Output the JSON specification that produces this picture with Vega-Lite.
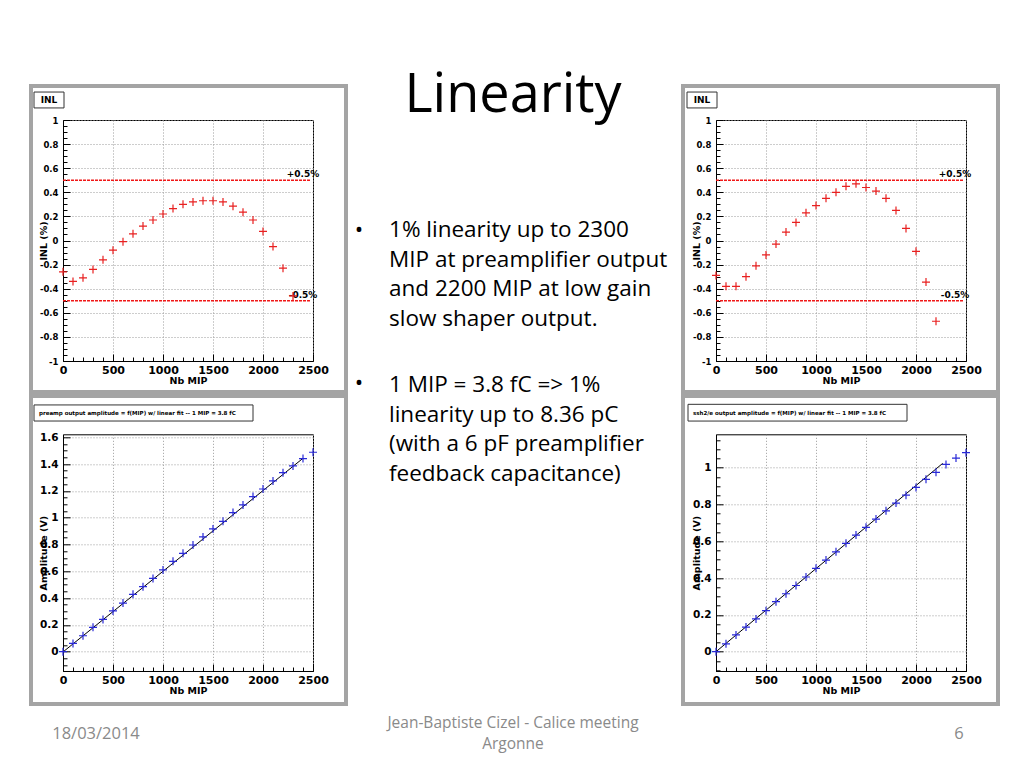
{
  "$schema": "https://vega.github.io/schema/vega-lite/v6.json",
  "background": "white",
  "padding": {"left": 28, "top": 68, "right": 10, "bottom": 5},
  "bounds": "flush",
  "columns": 3,
  "spacing": {"row": 73.3, "column": 20},
  "config": {
    "view": {"stroke": "black", "strokeWidth": 1},
    "axis": {
      "domainColor": "black", "domainWidth": 1, "tickColor": "black", "tickWidth": 1,
      "labelFont": "DejaVu Sans", "labelFontWeight": "bold", "labelColor": "black",
      "titleFont": "DejaVu Sans", "titleFontWeight": "bold", "titleFontSize": 9.5, "titleColor": "black",
      "grid": true, "gridColor": "#9a9a9a", "gridDash": [1, 2], "gridWidth": 1,
      "labelOverlap": false, "labelFlush": false, "labelBound": false, "tickCount": 100
    },
    "axisX": {"labelFontSize": 11, "labelPadding": 10},
    "axisY": {"labelFontSize": 9.5, "labelPadding": 12}
  },
  "datasets": {
    "inl_pa": [
      {"mip": 0, "inl": -0.26}, {"mip": 100, "inl": -0.34}, {"mip": 200, "inl": -0.31}, {"mip": 300, "inl": -0.24},
      {"mip": 400, "inl": -0.16}, {"mip": 500, "inl": -0.08}, {"mip": 600, "inl": -0.01}, {"mip": 700, "inl": 0.055},
      {"mip": 800, "inl": 0.12}, {"mip": 900, "inl": 0.17}, {"mip": 1000, "inl": 0.22}, {"mip": 1100, "inl": 0.265},
      {"mip": 1200, "inl": 0.30}, {"mip": 1300, "inl": 0.32}, {"mip": 1400, "inl": 0.33}, {"mip": 1500, "inl": 0.33},
      {"mip": 1600, "inl": 0.32}, {"mip": 1700, "inl": 0.285}, {"mip": 1800, "inl": 0.235}, {"mip": 1900, "inl": 0.17},
      {"mip": 2000, "inl": 0.075}, {"mip": 2100, "inl": -0.05}, {"mip": 2200, "inl": -0.23}, {"mip": 2300, "inl": -0.46}
    ],
    "inl_ss": [
      {"mip": 0, "inl": -0.29}, {"mip": 100, "inl": -0.38}, {"mip": 200, "inl": -0.38}, {"mip": 300, "inl": -0.30},
      {"mip": 400, "inl": -0.21}, {"mip": 500, "inl": -0.12}, {"mip": 600, "inl": -0.03}, {"mip": 700, "inl": 0.07},
      {"mip": 800, "inl": 0.15}, {"mip": 900, "inl": 0.23}, {"mip": 1000, "inl": 0.29}, {"mip": 1100, "inl": 0.35},
      {"mip": 1200, "inl": 0.40}, {"mip": 1300, "inl": 0.45}, {"mip": 1400, "inl": 0.47}, {"mip": 1500, "inl": 0.44},
      {"mip": 1600, "inl": 0.41}, {"mip": 1700, "inl": 0.35}, {"mip": 1800, "inl": 0.25}, {"mip": 1900, "inl": 0.10},
      {"mip": 2000, "inl": -0.09}, {"mip": 2100, "inl": -0.345}, {"mip": 2200, "inl": -0.67}
    ],
    "amp_pa": [
      {"mip": 0, "amp": 0}, {"mip": 100, "amp": 0.062}, {"mip": 200, "amp": 0.119}, {"mip": 300, "amp": 0.182},
      {"mip": 400, "amp": 0.241}, {"mip": 500, "amp": 0.304}, {"mip": 600, "amp": 0.363}, {"mip": 700, "amp": 0.428},
      {"mip": 800, "amp": 0.485}, {"mip": 900, "amp": 0.547}, {"mip": 1000, "amp": 0.610}, {"mip": 1100, "amp": 0.674},
      {"mip": 1200, "amp": 0.734}, {"mip": 1300, "amp": 0.796}, {"mip": 1400, "amp": 0.856}, {"mip": 1500, "amp": 0.916},
      {"mip": 1600, "amp": 0.973}, {"mip": 1700, "amp": 1.038}, {"mip": 1800, "amp": 1.095}, {"mip": 1900, "amp": 1.157},
      {"mip": 2000, "amp": 1.214}, {"mip": 2100, "amp": 1.274}, {"mip": 2200, "amp": 1.336}, {"mip": 2300, "amp": 1.386},
      {"mip": 2400, "amp": 1.441}, {"mip": 2500, "amp": 1.488}
    ],
    "amp_ss": [
      {"mip": 0, "amp": 0}, {"mip": 100, "amp": 0.043}, {"mip": 200, "amp": 0.091}, {"mip": 300, "amp": 0.134},
      {"mip": 400, "amp": 0.178}, {"mip": 500, "amp": 0.223}, {"mip": 600, "amp": 0.272}, {"mip": 700, "amp": 0.315},
      {"mip": 800, "amp": 0.360}, {"mip": 900, "amp": 0.406}, {"mip": 1000, "amp": 0.453}, {"mip": 1100, "amp": 0.498},
      {"mip": 1200, "amp": 0.543}, {"mip": 1300, "amp": 0.589}, {"mip": 1400, "amp": 0.634}, {"mip": 1500, "amp": 0.676},
      {"mip": 1600, "amp": 0.721}, {"mip": 1700, "amp": 0.766}, {"mip": 1800, "amp": 0.808}, {"mip": 1900, "amp": 0.851},
      {"mip": 2000, "amp": 0.893}, {"mip": 2100, "amp": 0.937}, {"mip": 2200, "amp": 0.975}, {"mip": 2300, "amp": 1.018},
      {"mip": 2400, "amp": 1.053}, {"mip": 2500, "amp": 1.082}
    ],
    "fit_pa": [{"mip": 0, "amp": -0.002}, {"mip": 2400, "amp": 1.443}],
    "fit_ss": [{"mip": 0, "amp": 0}, {"mip": 2267, "amp": 1.024}],
    "limits": [{"lim": 0.5, "lab": "+0.5%"}, {"lim": -0.5, "lab": "-0.5%"}]
  },
  "concat": [
    {
      "width": 250, "height": 241,
      "layer": [
        {"data": {"values": [{}]}, "mark": {"type": "rect", "filled": false, "stroke": "#a4a4a4", "strokeWidth": 4},
         "encoding": {"x": {"datum": -320, "type": "quantitative"}, "x2": {"datum": 2830}, "y": {"datum": -1.257, "type": "quantitative"}, "y2": {"datum": 1.282}}},
        {"data": {"values": [{}]}, "mark": {"type": "rect", "fill": "white", "stroke": "#333333", "strokeWidth": 1},
         "encoding": {"x": {"datum": -290, "type": "quantitative"}, "x2": {"datum": 10}, "y": {"datum": 1.10, "type": "quantitative"}, "y2": {"datum": 1.232}}},
        {"data": {"values": [{"t": "INL"}]}, "mark": {"type": "text", "font": "DejaVu Sans", "fontWeight": "bold", "fontSize": 9, "baseline": "middle", "align": "center"},
         "encoding": {"x": {"datum": -140, "type": "quantitative"}, "y": {"datum": 1.166, "type": "quantitative"}, "text": {"field": "t"}}},
        {"data": {"name": "limits"}, "mark": {"type": "rule", "color": "#f01818", "strokeWidth": 1.5, "strokeDash": [3, 1]},
         "encoding": {"x": {"datum": 0, "type": "quantitative"}, "x2": {"datum": 2480}, "y": {"field": "lim", "type": "quantitative"}}},
        {"data": {"name": "limits"}, "mark": {"type": "text", "font": "DejaVu Sans", "fontWeight": "bold", "fontSize": 9, "baseline": "bottom", "align": "center", "dy": -1},
         "encoding": {"x": {"datum": 2400, "type": "quantitative"}, "y": {"field": "lim", "type": "quantitative"}, "text": {"field": "lab"}}},
        {"data": {"name": "inl_pa"}, "mark": {"type": "point", "shape": "M-1,0L1,0M0,-1L0,1", "filled": false, "color": "#e82020", "size": 64, "strokeWidth": 1.2, "opacity": 1},
         "encoding": {
           "x": {"field": "mip", "type": "quantitative", "scale": {"domain": [0, 2500], "nice": false, "zero": false},
             "axis": {"title": "Nb MIP", "tickCount": 100, "values": [0,100,200,300,400,500,600,700,800,900,1000,1100,1200,1300,1400,1500,1600,1700,1800,1900,2000,2100,2200,2300,2400,2500],
               "labelOverlap": false,
               "labelExpr": "datum.value % 500 == 0 ? format(datum.value, 'd') : ''",
               "tickSize": {"condition": {"test": "datum.value % 500 == 0", "value": -7}, "value": -4},
               "gridOpacity": {"condition": {"test": "datum.value % 500 == 0", "value": 1}, "value": 0},
               "titleX": 125, "titleY": 19, "titleBaseline": "middle", "titleAlign": "center"}},
           "y": {"field": "inl", "type": "quantitative", "scale": {"domain": [-1, 1], "nice": false, "zero": false},
             "axis": {"title": "INL (%)", "tickCount": 100, "labelFontSize": 8.5, "values": [-1,-0.95,-0.9,-0.85,-0.8,-0.75,-0.7,-0.65,-0.6,-0.55,-0.5,-0.45,-0.4,-0.35,-0.3,-0.25,-0.2,-0.15,-0.1,-0.05,0,0.05,0.1,0.15,0.2,0.25,0.3,0.35,0.4,0.45,0.5,0.55,0.6,0.65,0.7,0.75,0.8,0.85,0.9,0.95,1],
               "labelOverlap": false,
               "labelExpr": "abs(round(datum.value*100)) % 20 == 0 ? (datum.value < -0.001 ? '-' : '') + format(abs(datum.value), '~g') : ''",
               "tickSize": {"condition": {"test": "abs(round(datum.value*100)) % 20 == 0", "value": -7}, "value": -4},
               "gridOpacity": {"condition": {"test": "abs(round(datum.value*100)) % 20 == 0", "value": 1}, "value": 0},
               "titleX": -20, "titleY": 120.5, "titleBaseline": "middle", "titleAlign": "center"}}
         }}
      ]
    },
    {
      "width": 363, "height": 241,
      "view": {"stroke": null},
      "layer": [
        {"data": {"values": [{"t": "Linearity"}]}, "mark": {"type": "text", "font": "Open Sans", "fontSize": 54, "align": "center", "baseline": "alphabetic", "color": "black"},
         "encoding": {"x": {"datum": 0.4959, "type": "quantitative", "scale": {"domain": [0, 1]}, "axis": null}, "y": {"datum": -0.0332, "type": "quantitative", "scale": {"domain": [0, 1], "reverse": true}, "axis": null}, "text": {"field": "t"}}},
        {"data": {"values": [{"t": "•"}]}, "mark": {"type": "text", "font": "Open Sans", "fontSize": 22.5, "align": "center", "baseline": "middle", "color": "black"},
         "encoding": {"x": {"datum": 0.0716, "type": "quantitative"}, "y": {"datum": 0.4564, "type": "quantitative"}, "text": {"field": "t"}}},
        {"data": {"values": [{"t": ["1% linearity up to 2300", "MIP at preamplifier output", "and 2200 MIP at low gain", "slow shaper output."]}]},
         "mark": {"type": "text", "font": "Open Sans", "fontSize": 22.5, "align": "left", "baseline": "alphabetic", "lineHeight": 29.5, "color": "black"},
         "encoding": {"x": {"datum": 0.1543, "type": "quantitative"}, "y": {"datum": 0.4855, "type": "quantitative"}, "text": {"field": "t"}}}
      ]
    },
    {
      "width": 250, "height": 241,
      "layer": [
        {"data": {"values": [{}]}, "mark": {"type": "rect", "filled": false, "stroke": "#a4a4a4", "strokeWidth": 4},
         "encoding": {"x": {"datum": -330, "type": "quantitative"}, "x2": {"datum": 2820}, "y": {"datum": -1.257, "type": "quantitative"}, "y2": {"datum": 1.282}}},
        {"data": {"values": [{}]}, "mark": {"type": "rect", "fill": "white", "stroke": "#333333", "strokeWidth": 1},
         "encoding": {"x": {"datum": -290, "type": "quantitative"}, "x2": {"datum": 10}, "y": {"datum": 1.10, "type": "quantitative"}, "y2": {"datum": 1.232}}},
        {"data": {"values": [{"t": "INL"}]}, "mark": {"type": "text", "font": "DejaVu Sans", "fontWeight": "bold", "fontSize": 9, "baseline": "middle", "align": "center"},
         "encoding": {"x": {"datum": -140, "type": "quantitative"}, "y": {"datum": 1.166, "type": "quantitative"}, "text": {"field": "t"}}},
        {"data": {"name": "limits"}, "mark": {"type": "rule", "color": "#f01818", "strokeWidth": 1.5, "strokeDash": [3, 1]},
         "encoding": {"x": {"datum": 0, "type": "quantitative"}, "x2": {"datum": 2480}, "y": {"field": "lim", "type": "quantitative"}}},
        {"data": {"name": "limits"}, "mark": {"type": "text", "font": "DejaVu Sans", "fontWeight": "bold", "fontSize": 9, "baseline": "bottom", "align": "center", "dy": -1},
         "encoding": {"x": {"datum": 2390, "type": "quantitative"}, "y": {"field": "lim", "type": "quantitative"}, "text": {"field": "lab"}}},
        {"data": {"name": "inl_ss"}, "mark": {"type": "point", "shape": "M-1,0L1,0M0,-1L0,1", "filled": false, "color": "#e82020", "size": 64, "strokeWidth": 1.2, "opacity": 1},
         "encoding": {
           "x": {"field": "mip", "type": "quantitative", "scale": {"domain": [0, 2500], "nice": false, "zero": false},
             "axis": {"title": "Nb MIP", "tickCount": 100, "values": [0,100,200,300,400,500,600,700,800,900,1000,1100,1200,1300,1400,1500,1600,1700,1800,1900,2000,2100,2200,2300,2400,2500],
               "labelOverlap": false,
               "labelExpr": "datum.value % 500 == 0 ? format(datum.value, 'd') : ''",
               "tickSize": {"condition": {"test": "datum.value % 500 == 0", "value": -7}, "value": -4},
               "gridOpacity": {"condition": {"test": "datum.value % 500 == 0", "value": 1}, "value": 0},
               "titleX": 125, "titleY": 19, "titleBaseline": "middle", "titleAlign": "center"}},
           "y": {"field": "inl", "type": "quantitative", "scale": {"domain": [-1, 1], "nice": false, "zero": false},
             "axis": {"title": "INL (%)", "tickCount": 100, "labelFontSize": 8.5, "values": [-1,-0.95,-0.9,-0.85,-0.8,-0.75,-0.7,-0.65,-0.6,-0.55,-0.5,-0.45,-0.4,-0.35,-0.3,-0.25,-0.2,-0.15,-0.1,-0.05,0,0.05,0.1,0.15,0.2,0.25,0.3,0.35,0.4,0.45,0.5,0.55,0.6,0.65,0.7,0.75,0.8,0.85,0.9,0.95,1],
               "labelOverlap": false,
               "labelExpr": "abs(round(datum.value*100)) % 20 == 0 ? (datum.value < -0.001 ? '-' : '') + format(abs(datum.value), '~g') : ''",
               "tickSize": {"condition": {"test": "abs(round(datum.value*100)) % 20 == 0", "value": -7}, "value": -4},
               "gridOpacity": {"condition": {"test": "abs(round(datum.value*100)) % 20 == 0", "value": 1}, "value": 0},
               "titleX": -20, "titleY": 120.5, "titleBaseline": "middle", "titleAlign": "center"}}
         }}
      ]
    },
    {
      "width": 250, "height": 236.7,
      "layer": [
        {"data": {"values": [{}]}, "mark": {"type": "rect", "filled": false, "stroke": "#a4a4a4", "strokeWidth": 4},
         "encoding": {"x": {"datum": -320, "type": "quantitative"}, "x2": {"datum": 2830}, "y": {"datum": -0.390, "type": "quantitative"}, "y2": {"datum": 1.908}}},
        {"data": {"values": [{}]}, "mark": {"type": "rect", "fill": "white", "stroke": "#333333", "strokeWidth": 1},
         "encoding": {"x": {"datum": -290, "type": "quantitative"}, "x2": {"datum": 1900}, "y": {"datum": 1.721, "type": "quantitative"}, "y2": {"datum": 1.841}}},
        {"data": {"values": [{"t": "preamp output amplitude = f(MIP) w/ linear fit -- 1 MIP = 3.8 fC"}]}, "mark": {"type": "text", "font": "DejaVu Sans", "fontWeight": "bold", "fontSize": 5.5, "baseline": "middle", "align": "left"},
         "encoding": {"x": {"datum": -240, "type": "quantitative"}, "y": {"datum": 1.781, "type": "quantitative"}, "text": {"field": "t"}}},
        {"data": {"name": "fit_pa"}, "mark": {"type": "line", "color": "black", "strokeWidth": 1},
         "encoding": {"x": {"field": "mip", "type": "quantitative"}, "y": {"field": "amp", "type": "quantitative"}}},
        {"data": {"name": "amp_pa"}, "mark": {"type": "point", "shape": "M-1,0L1,0M0,-1L0,1", "filled": false, "color": "#2a2ad8", "size": 64, "strokeWidth": 1.2, "opacity": 1},
         "encoding": {
           "x": {"field": "mip", "type": "quantitative", "scale": {"domain": [0, 2500], "nice": false, "zero": false},
             "axis": {"title": "Nb MIP", "tickCount": 100, "values": [0,100,200,300,400,500,600,700,800,900,1000,1100,1200,1300,1400,1500,1600,1700,1800,1900,2000,2100,2200,2300,2400,2500],
               "labelOverlap": false,
               "labelExpr": "datum.value % 500 == 0 ? format(datum.value, 'd') : ''",
               "tickSize": {"condition": {"test": "datum.value % 500 == 0", "value": -7}, "value": -4},
               "gridOpacity": {"condition": {"test": "datum.value % 500 == 0", "value": 1}, "value": 0},
               "titleX": 125, "titleY": 19, "titleBaseline": "middle", "titleAlign": "center"}},
           "y": {"field": "amp", "type": "quantitative", "scale": {"domain": [-0.144, 1.622], "nice": false, "zero": false},
             "axis": {"title": "Amplitude (V)", "tickCount": 100, "labelFontSize": 10.5, "values": [-0.1,-0.05,0,0.05,0.1,0.15,0.2,0.25,0.3,0.35,0.4,0.45,0.5,0.55,0.6,0.65,0.7,0.75,0.8,0.85,0.9,0.95,1,1.05,1.1,1.15,1.2,1.25,1.3,1.35,1.4,1.45,1.5,1.55,1.6],
               "labelOverlap": false,
               "labelExpr": "abs(round(datum.value*100)) % 20 == 0 ? (datum.value < -0.001 ? '-' : '') + format(abs(datum.value), '~g') : ''",
               "tickSize": {"condition": {"test": "abs(round(datum.value*100)) % 20 == 0", "value": -7}, "value": -4},
               "gridOpacity": {"condition": {"test": "abs(round(datum.value*100)) % 20 == 0", "value": 1}, "value": 0},
               "titleX": -20, "titleY": 118.35, "titleBaseline": "middle", "titleAlign": "center"}}
         }}
      ]
    },
    {
      "width": 363, "height": 236.7,
      "view": {"stroke": null},
      "layer": [
        {"data": {"values": [{"t": "•"}]}, "mark": {"type": "text", "font": "Open Sans", "fontSize": 22.5, "align": "center", "baseline": "middle", "color": "black"},
         "encoding": {"x": {"datum": 0.0716, "type": "quantitative", "scale": {"domain": [0, 1]}, "axis": null}, "y": {"datum": -0.2167, "type": "quantitative", "scale": {"domain": [0, 1], "reverse": true}, "axis": null}, "text": {"field": "t"}}},
        {"data": {"values": [{"t": ["1 MIP = 3.8 fC => 1%", "linearity up to 8.36 pC", "(with a 6 pF preamplifier", "feedback capacitance)"]}]},
         "mark": {"type": "text", "font": "Open Sans", "fontSize": 22.5, "align": "left", "baseline": "alphabetic", "lineHeight": 29.5, "color": "black"},
         "encoding": {"x": {"datum": 0.1543, "type": "quantitative"}, "y": {"datum": -0.1787, "type": "quantitative"}, "text": {"field": "t"}}}
      ]
    },
    {
      "width": 250, "height": 236.7,
      "layer": [
        {"data": {"values": [{}]}, "mark": {"type": "rect", "filled": false, "stroke": "#a4a4a4", "strokeWidth": 4},
         "encoding": {"x": {"datum": -330, "type": "quantitative"}, "x2": {"datum": 2820}, "y": {"datum": -0.284, "type": "quantitative"}, "y2": {"datum": 1.390}}},
        {"data": {"values": [{}]}, "mark": {"type": "rect", "fill": "white", "stroke": "#333333", "strokeWidth": 1},
         "encoding": {"x": {"datum": -280, "type": "quantitative"}, "x2": {"datum": 1910}, "y": {"datum": 1.254, "type": "quantitative"}, "y2": {"datum": 1.345}}},
        {"data": {"values": [{"t": "ssh2/e output amplitude = f(MIP) w/ linear fit -- 1 MIP = 3.8 fC"}]}, "mark": {"type": "text", "font": "DejaVu Sans", "fontWeight": "bold", "fontSize": 5.5, "baseline": "middle", "align": "left"},
         "encoding": {"x": {"datum": -230, "type": "quantitative"}, "y": {"datum": 1.30, "type": "quantitative"}, "text": {"field": "t"}}},
        {"data": {"name": "fit_ss"}, "mark": {"type": "line", "color": "black", "strokeWidth": 1},
         "encoding": {"x": {"field": "mip", "type": "quantitative"}, "y": {"field": "amp", "type": "quantitative"}}},
        {"data": {"name": "amp_ss"}, "mark": {"type": "point", "shape": "M-1,0L1,0M0,-1L0,1", "filled": false, "color": "#2a2ad8", "size": 64, "strokeWidth": 1.2, "opacity": 1},
         "encoding": {
           "x": {"field": "mip", "type": "quantitative", "scale": {"domain": [0, 2500], "nice": false, "zero": false},
             "axis": {"title": "Nb MIP", "tickCount": 100, "values": [0,100,200,300,400,500,600,700,800,900,1000,1100,1200,1300,1400,1500,1600,1700,1800,1900,2000,2100,2200,2300,2400,2500],
               "labelOverlap": false,
               "labelExpr": "datum.value % 500 == 0 ? format(datum.value, 'd') : ''",
               "tickSize": {"condition": {"test": "datum.value % 500 == 0", "value": -7}, "value": -4},
               "gridOpacity": {"condition": {"test": "datum.value % 500 == 0", "value": 1}, "value": 0},
               "titleX": 125, "titleY": 19, "titleBaseline": "middle", "titleAlign": "center"}},
           "y": {"field": "amp", "type": "quantitative", "scale": {"domain": [-0.105, 1.182], "nice": false, "zero": false},
             "axis": {"title": "Amplitude (V)", "tickCount": 100, "labelFontSize": 10.5, "values": [-0.1,-0.05,0,0.05,0.1,0.15,0.2,0.25,0.3,0.35,0.4,0.45,0.5,0.55,0.6,0.65,0.7,0.75,0.8,0.85,0.9,0.95,1,1.05,1.1,1.15],
               "labelOverlap": false,
               "labelExpr": "abs(round(datum.value*100)) % 20 == 0 ? (datum.value < -0.001 ? '-' : '') + format(abs(datum.value), '~g') : ''",
               "tickSize": {"condition": {"test": "abs(round(datum.value*100)) % 20 == 0", "value": -7}, "value": -4},
               "gridOpacity": {"condition": {"test": "abs(round(datum.value*100)) % 20 == 0", "value": 1}, "value": 0},
               "titleX": -20, "titleY": 118.35, "titleBaseline": "middle", "titleAlign": "center"}}
         }}
      ]
    },
    {
      "width": 250, "height": 10,
      "view": {"stroke": null},
      "layer": [
        {"data": {"values": [{"t": "18/03/2014"}]}, "mark": {"type": "text", "font": "Open Sans", "fontSize": 16.5, "align": "center", "baseline": "alphabetic", "color": "#8a8a8a"},
         "encoding": {"x": {"datum": 0.132, "type": "quantitative", "scale": {"domain": [0, 1]}, "axis": null}, "y": {"datum": -0.53, "type": "quantitative", "scale": {"domain": [0, 1], "reverse": true}, "axis": null}, "text": {"field": "t"}}}
      ]
    },
    {
      "width": 363, "height": 10,
      "view": {"stroke": null},
      "layer": [
        {"data": {"values": [{"t": ["Jean-Baptiste Cizel - Calice meeting", "Argonne"]}]}, "mark": {"type": "text", "font": "Open Sans", "fontSize": 15.5, "align": "center", "baseline": "alphabetic", "lineHeight": 21, "color": "#8a8a8a"},
         "encoding": {"x": {"datum": 0.4959, "type": "quantitative", "scale": {"domain": [0, 1]}, "axis": null}, "y": {"datum": -1.63, "type": "quantitative", "scale": {"domain": [0, 1], "reverse": true}, "axis": null}, "text": {"field": "t"}}}
      ]
    },
    {
      "width": 250, "height": 10,
      "view": {"stroke": null},
      "layer": [
        {"data": {"values": [{"t": "6"}]}, "mark": {"type": "text", "font": "Open Sans", "fontSize": 16.5, "align": "center", "baseline": "alphabetic", "color": "#8a8a8a"},
         "encoding": {"x": {"datum": 0.972, "type": "quantitative", "scale": {"domain": [0, 1]}, "axis": null}, "y": {"datum": -0.53, "type": "quantitative", "scale": {"domain": [0, 1], "reverse": true}, "axis": null}, "text": {"field": "t"}}}
      ]
    }
  ]
}
